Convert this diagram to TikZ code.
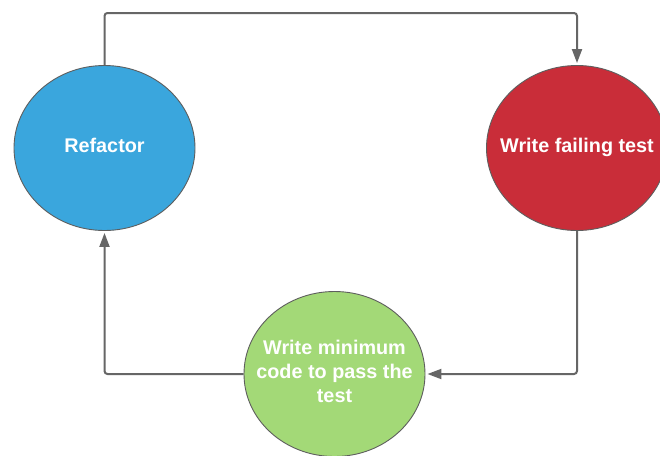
\documentclass[tikz,border=0pt]{standalone}
\usepackage{fontspec}
\setmainfont{Liberation Sans}
\usetikzlibrary{shapes.geometric,arrows.meta}
\definecolor{refblue}{HTML}{3AA6DD}
\definecolor{failred}{HTML}{C92D39}
\definecolor{passgreen}{HTML}{A3D977}
\definecolor{linegray}{HTML}{666666}
\definecolor{rimgray}{HTML}{5E5E5E}
% centred label that does not widen the ellipse around it
\newcommand{\phaselabel}[1]{\hbox to 0pt{\hss\begin{tabular}{@{}c@{}}#1\end{tabular}\hss}}
\tikzset{
  phase/.style={ellipse, draw=rimgray, line width=0.9pt, minimum width=181pt,
    minimum height=165pt, inner sep=0pt, text=white,
    font=\fontsize{19.8}{24}\selectfont\bfseries},
  flow/.style={draw=linegray, line width=2pt, rounded corners=3pt,
    -{Triangle[length=14pt,width=10pt]}, shorten >=2pt}
}
\begin{document}
\begin{tikzpicture}[x=1pt,y=-1pt]
  \path[use as bounding box, fill=white] (0,0) rectangle (660,455);
  \node[phase, fill=refblue] (ref) at (104.5,148) {\phaselabel{Refactor}};
  \node[phase, fill=failred] (fail) at (577,148) {\phaselabel{Write failing test}};
  \node[phase, fill=passgreen] (pass) at (334.5,374) {\phaselabel{Write minimum\\code to pass the\\test}};
  \coordinate (topline) at (0,13);
  \draw[flow] (ref.north) -- (ref.north |- topline) -| (fail.north);
  \draw[flow] (fail.south) |- (pass.east);
  \draw[flow] (pass.west) -| (ref.south);
\end{tikzpicture}
\end{document}
